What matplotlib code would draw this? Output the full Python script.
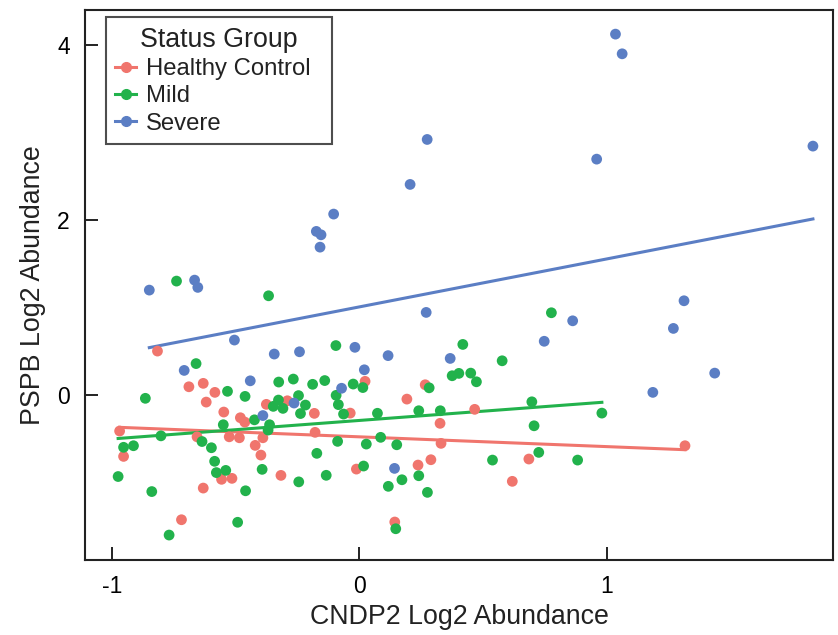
import matplotlib
matplotlib.use('Agg')
import matplotlib.pyplot as plt
from matplotlib.lines import Line2D
import numpy as np

plt.rcParams['font.family'] = ['Liberation Sans', 'DejaVu Sans']

# CNDP2 / PSPB log2 abundance per sample, by status group
healthy_x = [-0.815, -0.688, -0.630, -0.583, -0.618, -0.547, -0.480, -0.462, -0.375, -0.290,
             -0.181, -0.968, -0.655, -0.525, -0.484, -0.389, -0.178, -0.952, -0.420, -0.397,
             -0.316, -0.556, -0.514, -0.630, -0.718, 0.024, -0.036, 0.193, 0.267, 0.467,
             0.327, 0.331, 0.686, 0.290, 0.238, -0.011, 0.619, 0.144, 1.317]
healthy_y = [0.503, 0.095, 0.134, 0.031, -0.080, -0.194, -0.259, -0.309, -0.106, -0.065,
             -0.209, -0.411, -0.477, -0.477, -0.488, -0.488, -0.426, -0.701, -0.575, -0.686,
             -0.918, -0.963, -0.952, -1.063, -1.425, 0.157, -0.206, -0.046, 0.118, -0.163,
             -0.323, -0.552, -0.731, -0.739, -0.800, -0.846, -0.986, -1.451, -0.579]

mild_x = [-0.738, -0.366, -0.094, -0.659, -0.325, -0.266, -0.188, -0.139, -0.024, 0.015,
          -0.864, -0.532, -0.461, -0.245, -0.326, -0.347, -0.308, -0.217, -0.237, -0.093,
          -0.084, -0.063, 0.074, -0.423, -0.549, -0.362, -0.368, -0.801, -0.635, -0.952,
          -0.912, -0.597, -0.584, -0.577, -0.539, -0.392, -0.171, -0.087, 0.029, 0.087,
          -0.974, -0.838, -0.459, -0.244, -0.133, 0.018, 0.118, -0.491, -0.768, 0.419,
          0.578, 0.283, 0.376, 0.403, 0.451, 0.474, 0.241, 0.328, 0.698, 0.707,
          0.152, 0.726, 0.883, 0.539, 0.241, 0.173, 0.276, 0.148, 0.777, 0.981]
mild_y = [1.303, 1.135, 0.566, 0.360, 0.149, 0.183, 0.123, 0.166, 0.126, 0.086,
          -0.037, 0.043, -0.015, -0.006, -0.057, -0.129, -0.152, -0.114, -0.211, -0.003,
          -0.109, -0.217, -0.208, -0.283, -0.339, -0.339, -0.400, -0.466, -0.531, -0.597,
          -0.579, -0.602, -0.757, -0.886, -0.861, -0.849, -0.666, -0.529, -0.560, -0.483,
          -0.931, -1.103, -1.094, -0.992, -0.917, -0.811, -1.043, -1.454, -1.600, 0.579,
          0.392, 0.083, 0.221, 0.248, 0.251, 0.152, -0.179, -0.179, -0.077, -0.351,
          -0.568, -0.655, -0.743, -0.743, -0.922, -0.968, -1.112, -1.528, 0.941, -0.206]

severe_x = [-0.848, -0.665, -0.652, -0.707, -0.504, -0.440, -0.389, -0.343, -0.241, -0.173,
            -0.154, -0.158, -0.103, -0.071, -0.017, 0.021, 0.117, 0.143, 0.206, 0.275,
            0.271, 0.368, 0.748, 0.863, 0.960, 1.036, 1.063, 1.187, 1.270, 1.313,
            1.437, 1.834, -0.263]
severe_y = [1.200, 1.314, 1.231, 0.282, 0.629, 0.163, -0.234, 0.469, 0.495, 1.871,
            1.832, 1.691, 2.069, 0.078, 0.546, 0.289, 0.451, -0.838, 2.408, 2.922,
            0.945, 0.419, 0.615, 0.849, 2.697, 4.126, 3.901, 0.031, 0.762, 1.078,
            0.251, 2.846, -0.091]

groups = ['Healthy Control', 'Mild', 'Severe']
colors = ['#F0756D', '#22B24C', '#5B7EC4']
xs = [healthy_x, mild_x, severe_x]
ys = [healthy_y, mild_y, severe_y]

fig = plt.figure(figsize=(8.38, 6.35), dpi=100)
ax = fig.add_axes([0.1014, 0.118, 0.8926, 0.866])

for name, c, x, y in zip(groups, colors, xs, ys):
    x = np.array(x)
    y = np.array(y)
    ax.scatter(x, y, s=60, color=c, edgecolors='none', zorder=3)
    # least squares fit over each group's range
    k, b = np.polyfit(x, y, 1)
    xx = np.array([x.min(), x.max()])
    ax.plot(xx, k * xx + b, color=c, lw=2.2, zorder=2)

ax.set_xlim(-1.108, 1.915)
ax.set_ylim(-1.886, 4.4)
ax.set_xticks([-1, 0, 1])
ax.set_yticks([0, 2, 4])
ax.set_xticklabels(['-1', '0', '1'])
ax.tick_params(direction='in', length=9.5, width=1.4, labelsize=16.5, color='#222222', pad=11)
for sp in ax.spines.values():
    sp.set_linewidth(1.5)
    sp.set_color('#222222')

ax.set_xlabel('CNDP2 Log2 Abundance', fontsize=19.3, color='#222222', labelpad=4)
ax.set_ylabel('PSPB Log2 Abundance', fontsize=19.3, color='#222222', labelpad=8)

handles = [Line2D([0], [0], color=c, lw=2.2, marker='o', markersize=7) for c in colors]
leg = ax.legend(handles, groups, title='Status Group', loc='upper left',
                bbox_to_anchor=(0.028, 0.0, 0.302, 0.987), mode='expand', borderaxespad=0,
                fontsize=17.2, title_fontsize=19.3,
                frameon=True, fancybox=False, handlelength=0.85, handletextpad=0.42,
                labelspacing=0.22, borderpad=0.4)
leg.get_frame().set_edgecolor('#222222')
leg.get_frame().set_linewidth(1.5)
leg.get_title().set_color('#222222')
for t in leg.get_texts():
    t.set_color('#222222')

fig.savefig('out.png', dpi=100)
